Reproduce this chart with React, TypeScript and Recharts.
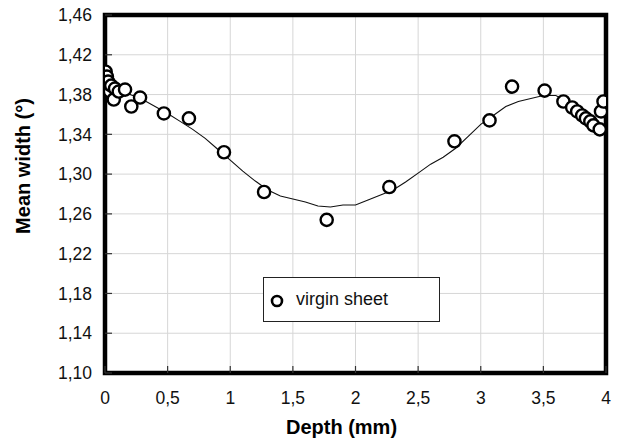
import React from 'react';
import { ComposedChart, Scatter, Line, XAxis, YAxis, CartesianGrid, ReferenceArea } from 'recharts';

const depthValues = [0.005, 0.015, 0.025, 0.04, 0.05, 0.07, 0.08, 0.11, 0.16, 0.21, 0.28, 0.47, 0.67, 0.95, 1.27, 1.77, 2.27, 2.79, 3.07, 3.25, 3.51, 3.66, 3.73, 3.77, 3.81, 3.84, 3.875, 3.9, 3.95, 3.96, 3.98];
const widthValues = [1.403, 1.398, 1.393, 1.383, 1.389, 1.375, 1.386, 1.383, 1.385, 1.368, 1.377, 1.361, 1.356, 1.322, 1.282, 1.254, 1.287, 1.333, 1.354, 1.388, 1.384, 1.373, 1.367, 1.363, 1.359, 1.356, 1.353, 1.349, 1.345, 1.363, 1.373];

const fitDepth = [0, 0.1, 0.2, 0.3, 0.4, 0.5, 0.6, 0.7, 0.8, 0.9, 1.0, 1.1, 1.2, 1.3, 1.4, 1.5, 1.6, 1.7, 1.8, 1.9, 2.0, 2.1, 2.2, 2.3, 2.4, 2.5, 2.6, 2.7, 2.8, 2.9, 3.0, 3.1, 3.2, 3.3, 3.4, 3.5, 3.6, 3.7, 3.8, 3.9, 4.0];
const fitWidth = [1.386, 1.384, 1.380, 1.375, 1.368, 1.361, 1.353, 1.345, 1.336, 1.325, 1.314, 1.303, 1.293, 1.284, 1.278, 1.275, 1.272, 1.268, 1.267, 1.269, 1.269, 1.274, 1.279, 1.284, 1.292, 1.301, 1.310, 1.317, 1.326, 1.338, 1.350, 1.359, 1.368, 1.373, 1.376, 1.379, 1.379, 1.372, 1.363, 1.353, 1.345];

const xTicks = [0, 0.5, 1, 1.5, 2, 2.5, 3, 3.5, 4];
const yTicks = [1.10, 1.14, 1.18, 1.22, 1.26, 1.30, 1.34, 1.38, 1.42, 1.46];

const seriesName = 'virgin sheet';
const xTitle = 'Depth (mm)';
const yTitle = 'Mean width (°)';

const scatterData = depthValues.map((x, i) => ({ x, y: widthValues[i] }));
const fitData = fitDepth.map((x, i) => ({ x, y: fitWidth[i] }));

const fmtX = (v: number) => String(v).replace('.', ',');
const fmtY = (v: number) => v.toFixed(2).replace('.', ',');

const FONT = '"Liberation Sans", Arial, sans-serif';

const YLabel = (props: any) => {
  const vb = props.viewBox || {};
  const cx = 30;
  const cy = (vb.y ?? 15) + (vb.height ?? 357) / 2 - 28;
  return (
    <text
      x={cx}
      y={cy}
      transform={`rotate(-90, ${cx}, ${cy})`}
      textAnchor="middle"
      fontFamily={FONT}
      fontWeight="bold"
      fontSize={20}
      fill="#000"
    >
      {yTitle}
    </text>
  );
};

const XLabel = (props: any) => {
  const vb = props.viewBox || {};
  const cx = (vb.x ?? 105) + (vb.width ?? 501) / 2 - 14;
  const cy = 434;
  return (
    <text x={cx} y={cy} textAnchor="middle" fontFamily={FONT} fontWeight="bold" fontSize={20} fill="#000">
      {xTitle}
    </text>
  );
};

export default function App() {
  return (
    <div style={{ position: 'absolute', left: 0, top: 0, width: 622, height: 444, background: '#fff' }}>
      <ComposedChart width={622} height={444} margin={{ top: 15, right: 16, bottom: 41, left: 0 }}>
        <CartesianGrid stroke="#d6d6d6" strokeWidth={1} vertical horizontal />
        <XAxis
          type="number"
          dataKey="x"
          domain={[0, 4]}
          ticks={xTicks}
          tickFormatter={fmtX}
          axisLine={false}
          tickLine={{ stroke: '#333', strokeWidth: 1.2 }}
          tickSize={-7}
          tickMargin={26}
          height={30}
          tick={{ fontFamily: FONT, fontSize: 17.5, fill: '#111' }}
          allowDataOverflow
          label={<XLabel />}
        />
        <YAxis
          type="number"
          dataKey="y"
          domain={[1.1, 1.46]}
          ticks={yTicks}
          tickFormatter={fmtY}
          axisLine={false}
          tickLine={{ stroke: '#333', strokeWidth: 1.2 }}
          tickSize={-7}
          tickMargin={20}
          width={105}
          tick={{ fontFamily: FONT, fontSize: 17.5, fill: '#111' }}
          allowDataOverflow
          label={<YLabel />}
        />
        <ReferenceArea x1={0} x2={4} y1={1.1} y2={1.46} fill="none" stroke="#000" strokeWidth={4.5} fillOpacity={0} />
        <Line
          data={fitData}
          dataKey="y"
          type="linear"
          stroke="#111"
          strokeWidth={1.1}
          dot={false}
          activeDot={false}
          isAnimationActive={false}
        />
        <Scatter
          data={scatterData}
          dataKey="y"
          fill="#fff"
          stroke="#000"
          strokeWidth={2.4}
          shape={(p: any) => <circle cx={p.cx} cy={p.cy} r={6.1} fill="#fff" stroke="#000" strokeWidth={2.4} />}
          isAnimationActive={false}
        />
      </ComposedChart>
      <div
        style={{
          position: 'absolute',
          left: 263,
          top: 277,
          width: 177,
          height: 45,
          border: '1px solid #222',
          background: '#fff',
          boxSizing: 'border-box',
          display: 'flex',
          alignItems: 'center',
          fontFamily: FONT,
          fontSize: 18,
          color: '#111',
        }}
      >
        <svg width={32} height={44} style={{ flex: 'none' }}>
          <circle cx={13} cy={23} r={5} fill="#fff" stroke="#000" strokeWidth={2.6} />
        </svg>
        <span>{seriesName}</span>
      </div>
    </div>
  );
}
